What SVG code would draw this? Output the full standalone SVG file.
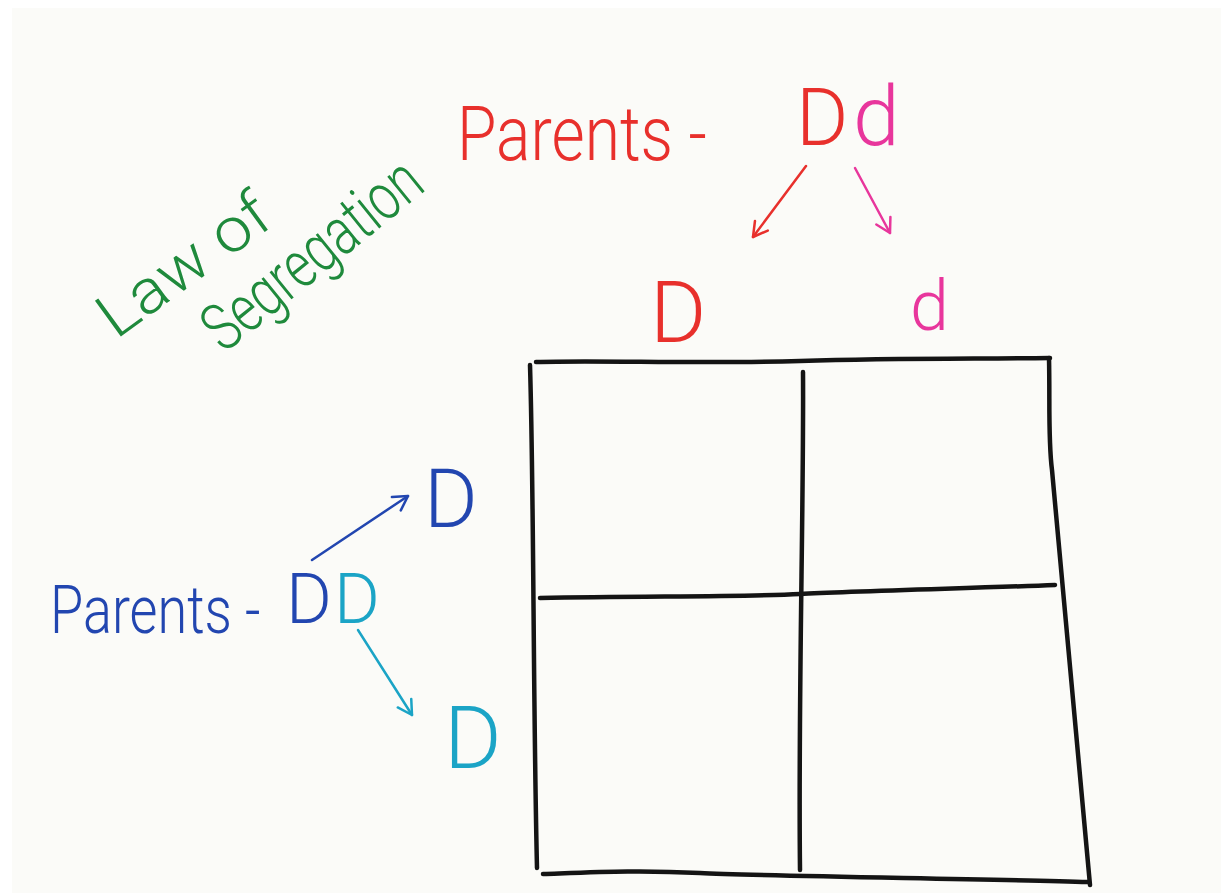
<svg xmlns="http://www.w3.org/2000/svg" width="1221" height="893" viewBox="0 0 1221 893">
  <style>
    .t { font-family: "Roboto", "Liberation Sans", "DejaVu Sans", sans-serif; font-weight: 300; }
    .grid { fill: none; stroke: #141414; stroke-width: 4.5; stroke-linecap: round; stroke-linejoin: round; }
    .arr { fill: none; stroke-width: 2.5; stroke-linecap: round; }
  </style>
  <defs>
    <marker id="hRed" viewBox="0 0 20 20" refX="18" refY="10" markerWidth="20" markerHeight="20" markerUnits="userSpaceOnUse" orient="auto">
      <path d="M4 2 L18 10 L4 18" fill="none" stroke="#e8302c" stroke-width="2.5" stroke-linecap="round" stroke-linejoin="round"/>
    </marker>
    <marker id="hMag" viewBox="0 0 20 20" refX="18" refY="10" markerWidth="20" markerHeight="20" markerUnits="userSpaceOnUse" orient="auto">
      <path d="M4 2 L18 10 L4 18" fill="none" stroke="#e8369c" stroke-width="2.5" stroke-linecap="round" stroke-linejoin="round"/>
    </marker>
    <marker id="hBlue" viewBox="0 0 20 20" refX="18" refY="10" markerWidth="20" markerHeight="20" markerUnits="userSpaceOnUse" orient="auto">
      <path d="M4 2 L18 10 L4 18" fill="none" stroke="#2246b0" stroke-width="2.5" stroke-linecap="round" stroke-linejoin="round"/>
    </marker>
    <marker id="hCyan" viewBox="0 0 20 20" refX="18" refY="10" markerWidth="20" markerHeight="20" markerUnits="userSpaceOnUse" orient="auto">
      <path d="M4 2 L18 10 L4 18" fill="none" stroke="#1ba4c6" stroke-width="2.5" stroke-linecap="round" stroke-linejoin="round"/>
    </marker>
  </defs>

  <rect x="0" y="0" width="1221" height="893" fill="#ffffff"/>
  <rect x="12" y="8" width="1209" height="885" fill="#fbfbf8"/>

  <g id="title">
    <text class="t" transform="translate(116,340) rotate(-36)" font-size="62" fill="#1f8a3c" textLength="198" lengthAdjust="spacingAndGlyphs">Law of</text>
    <text class="t" transform="translate(224,354) rotate(-39)" font-size="66" fill="#1f8a3c" textLength="262" lengthAdjust="spacingAndGlyphs">Segregation</text>
  </g>

  <g id="parent-top">
    <text class="t" x="457" y="160" font-size="76" fill="#e8302c" textLength="250" lengthAdjust="spacingAndGlyphs">Parents -</text>
    <text class="t" x="796" y="145" font-size="80" fill="#e8302c">D</text>
    <text class="t" x="853" y="145" font-size="84" fill="#e8369c">d</text>
  </g>

  <g id="gamete-top-D">
    <text class="t" x="650" y="342" font-size="86" fill="#e8302c">D</text>
  </g>
  <g id="gamete-top-d">
    <text class="t" x="910" y="330" font-size="70" fill="#e8369c">d</text>
  </g>

  <g id="parent-left">
    <text class="t" transform="translate(50,633) scale(1,1.25)" font-size="54" fill="#2246b0">Parents -</text>
    <text class="t" x="286" y="623" font-size="70"><tspan fill="#2246b0">D</tspan><tspan dx="2" fill="#1ba4c6">D</tspan></text>
  </g>

  <g id="gamete-left-D1">
    <text class="t" x="424" y="527" font-size="82" fill="#2246b0">D</text>
  </g>
  <g id="gamete-left-D2">
    <text class="t" x="444" y="768" font-size="88" fill="#1ba4c6">D</text>
  </g>

  <g id="connectors">
    <line class="arr" x1="806" y1="166" x2="753" y2="237" stroke="#e8302c" marker-end="url(#hRed)"/>
    <line class="arr" x1="855" y1="168" x2="890" y2="233" stroke="#e8369c" marker-end="url(#hMag)"/>
    <line class="arr" x1="312" y1="560" x2="408" y2="496" stroke="#2246b0" marker-end="url(#hBlue)"/>
    <line class="arr" x1="358" y1="630" x2="412" y2="715" stroke="#1ba4c6" marker-end="url(#hCyan)"/>
  </g>

  <g id="punnett-square">
    <path class="grid" d="M536 362 C 600 360, 700 364, 800 361 S 980 359, 1050 358"/>
    <path class="grid" d="M530 365 C 534 500, 533 700, 537 868"/>
    <path class="grid" d="M1049 358 C 1050 400, 1048 440, 1052 470 L 1090 885"/>
    <path class="grid" d="M803 372 C 804 500, 798 700, 800 870"/>
    <path class="grid" d="M540 598 C 650 596, 750 597, 800 594 S 980 588, 1055 585" stroke-width="6"/>
    <path class="grid" d="M543 874 C 600 872, 640 870, 700 873 S 1000 879, 1088 882"/>
  </g>
</svg>
